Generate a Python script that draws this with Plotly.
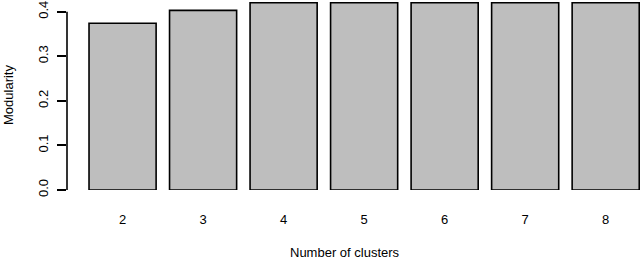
import plotly.graph_objects as go

clusters = ["2", "3", "4", "5", "6", "7", "8"]
modularity = [0.374, 0.403, 0.420, 0.420, 0.420, 0.420, 0.420]
y_ticks = [0.0, 0.1, 0.2, 0.3, 0.4]
y_tick_labels = ["0.0", "0.1", "0.2", "0.3", "0.4"]

# R barplot positions: width 1, space 0.2
xpos = [0.7 + 1.2 * i for i in range(len(clusters))]

W, H = 640, 259
left, right, top, bottom = 67, 0, 0, 69
unit = 67.1
x0_px = 75.6
plot_w = W - left - right
xr = [(left - x0_px) / unit, (W - right - x0_px) / unit]
plot_h = H - top - bottom
yr = [0, (plot_h + 0.5) / 447.0]

font = "Liberation Sans, Arial, Helvetica, sans-serif"

fig = go.Figure(go.Bar(
    x=xpos, y=modularity, width=1.0,
    marker=dict(color="#bebebe", line=dict(color="black", width=1.6)),
    showlegend=False, cliponaxis=False, hoverinfo="skip",
))

fig.update_layout(
    width=W, height=H,
    margin=dict(l=left, r=right, t=top, b=bottom, autoexpand=False),
    plot_bgcolor="white", paper_bgcolor="white",
    font=dict(family=font, size=13, color="black"),
    xaxis=dict(range=xr, tickmode="array", tickvals=xpos, ticktext=clusters,
               showgrid=False, zeroline=False, showline=False, ticks="",
               automargin=False,
               ticklabelstandoff=20, tickfont=dict(size=13)),
    yaxis=dict(range=yr, tickmode="array", tickvals=y_ticks, ticktext=y_tick_labels,
               showgrid=False, zeroline=False, showline=False,
               automargin=False, ticklabelstandoff=4,
               ticks="outside", ticklen=9, tickwidth=1.6, tickcolor="black",
               tickangle=-90, tickfont=dict(size=13)),
    shapes=[dict(type="line", xref="paper", yref="y", x0=0, x1=0, y0=0, y1=0.4,
                 line=dict(color="black", width=1.6))],
    annotations=[
        dict(text="Modularity", xref="paper", yref="paper", x=-(left - 8) / plot_w, y=0.5,
             textangle=-90, showarrow=False, xanchor="center", yanchor="middle",
             font=dict(size=13)),
        dict(text="Number of clusters", xref="paper", yref="paper",
             x=(345 - left) / plot_w, y=-(253 - plot_h) / plot_h,
             showarrow=False, xanchor="center", yanchor="middle",
             font=dict(size=13)),
    ],
)

fig.write_html("out.html", config={"displayModeBar": False},
               post_script="document.body.style.margin='0';document.body.style.overflow='hidden';")
